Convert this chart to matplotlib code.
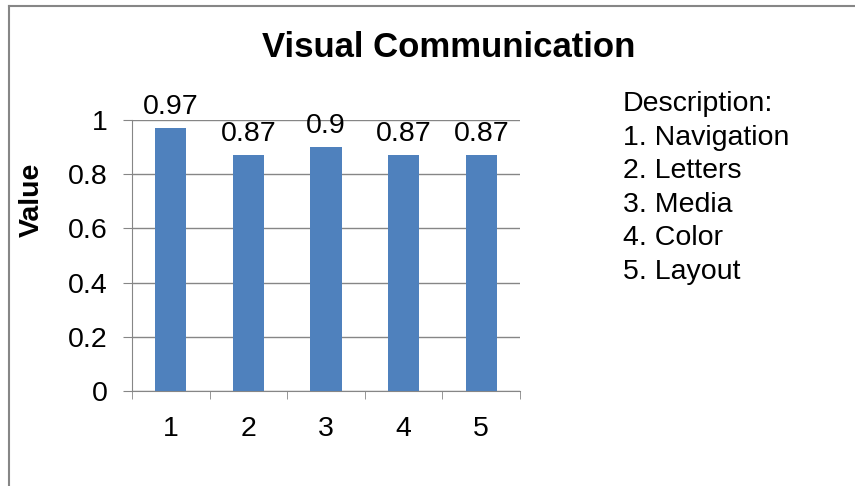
import matplotlib
matplotlib.use('Agg')
import matplotlib.pyplot as plt
from matplotlib.lines import Line2D

# chart data
categories = ['1', '2', '3', '4', '5']
values = [0.97, 0.87, 0.9, 0.87, 0.87]
value_labels = ['0.97', '0.87', '0.9', '0.87', '0.87']
description = ['Description:', '1. Navigation', '2. Letters', '3. Media',
               '4. Color', '5. Layout']
y_ticks = [0, 0.2, 0.4, 0.6, 0.8, 1]
y_ticklabels = ['0', '0.2', '0.4', '0.6', '0.8', '1']

plt.rcParams['font.family'] = ['Liberation Sans', 'DejaVu Sans']
W, H = 855, 486
grey = '#868686'
fs = 20.5
fig = plt.figure(figsize=(W / 100, H / 100), dpi=100)

# outer chart border (only left and top visible in the crop)
fig.add_artist(Line2D([8.5 / W, 8.5 / W], [0, 1 - 6.5 / H], transform=fig.transFigure,
                      color=grey, lw=1.5))
fig.add_artist(Line2D([8.5 / W, 1], [1 - 6.5 / H, 1 - 6.5 / H], transform=fig.transFigure,
                      color=grey, lw=1.5))

ax = fig.add_axes([132 / W, 1 - 391 / H, (520 - 132) / W, (391 - 120) / H])
x = range(len(categories))
bars = ax.bar(x, values, width=0.4, color='#4F81BD', zorder=3)
for b, lab in zip(bars, value_labels):
    ax.annotate(lab, (b.get_x() + b.get_width() / 2, b.get_height()),
                xytext=(0, 6), textcoords='offset points',
                ha='center', va='bottom', fontsize=fs)

ax.set_xlim(-0.5, len(categories) - 0.5)
ax.set_ylim(0, 1)
ax.set_yticks(y_ticks)
ax.set_yticklabels(y_ticklabels, fontsize=fs)
ax.set_xticks(x)
ax.set_xticklabels(categories, fontsize=fs)
ax.set_xticks([i - 0.5 for i in range(len(categories) + 1)], minor=True)
ax.tick_params(axis='x', which='major', length=0, pad=18)
ax.tick_params(axis='x', which='minor', length=6, color=grey, direction='out')
ax.tick_params(axis='y', length=6.5, color=grey, pad=11)
ax.yaxis.grid(True, color=grey, lw=1, zorder=0)
for s in ['top', 'right']:
    ax.spines[s].set_visible(False)
ax.spines['left'].set_color(grey)
ax.spines['bottom'].set_color(grey)

fig.text(31.5 / W, 1 - 200 / H, 'Value', fontsize=fs, fontweight='bold',
         rotation=90, ha='center', va='center')
fig.text(449 / W, 1 - 47 / H, 'Visual Communication', fontsize=25, fontweight='bold',
         ha='center', va='center')
for i, line in enumerate(description):
    fig.text(623 / W, 1 - (104 + 33.5 * i) / H, line, fontsize=fs, ha='left', va='center')

fig.savefig('out.png', dpi=100)
